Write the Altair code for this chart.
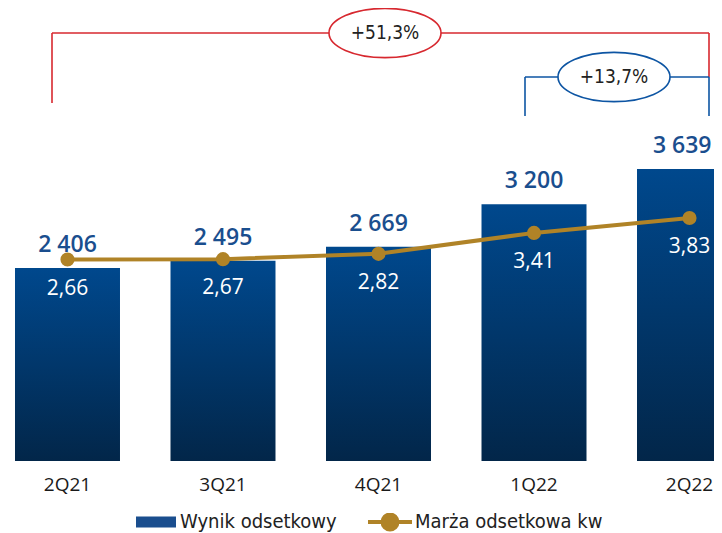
import altair as alt
import pandas as pd

# ---- data ----
quarters = ["2Q21", "3Q21", "4Q21", "1Q22", "2Q22"]
wynik = [2406, 2495, 2669, 3200, 3639]
wynik_labels = ["2 406", "2 495", "2 669", "3 200", "3 639"]
marza = [2.66, 2.67, 2.82, 3.41, 3.83]
marza_labels = ["2,66", "2,67", "2,82", "3,41", "3,83"]
series_bar = "Wynik odsetkowy"
series_line = "Marża odsetkowa kw"
annot_labels = ["+51,3%", "+13,7%"]

df = pd.DataFrame({
    "q": quarters,
    "wynik": wynik,
    "wynik_label": wynik_labels,
    "marza": marza,
    "marza_label": marza_labels,
    "sb": [series_bar] * len(quarters),
    "sl": [series_line] * len(quarters),
})

# ---- styles ----
W, H = 706, 453
BLUE_TOP = "#00488D"
BLUE_BOT = "#022649"
LABEL_BLUE = "#1A4E8E"
GOLD = "#B08327"
RED = "#D7282F"
ABLUE = "#0D55A3"
COND = "DejaVu Sans Condensed"
NUMF = "Open Sans"

x_enc = alt.X(
    "q:N", sort=quarters, title=None,
    scale=alt.Scale(range=[0, 741], paddingInner=0.3248, paddingOuter=0.045),
    axis=alt.Axis(labelAngle=0, ticks=False, tickSize=0, domain=False, grid=False,
                  labelPadding=14, labelFont=NUMF, labelFontSize=19,
                  labelFontWeight="normal", labelColor="#1A1A1A"),
)
y_bar = alt.Y("wynik:Q", scale=alt.Scale(domain=[0, 5646]), axis=None)
y_line = alt.Y("marza:Q", scale=alt.Scale(domain=[-3.016, 9.745]), axis=None)

base = alt.Chart(df)

bars = base.mark_bar(
    clip=True,
    color=alt.Gradient(
        gradient="linear",
        stops=[alt.GradientStop(color=BLUE_TOP, offset=0),
               alt.GradientStop(color=BLUE_BOT, offset=1)],
        x1=0, x2=0, y1=0, y2=1,
    ),
).encode(x=x_enc, y=y_bar)

legend_bar = alt.Legend(
    title=None, orient="none", legendX=128, legendY=505,
    symbolType="M-1,-0.28H1V0.28H-1Z", symbolSize=1600,
    symbolStrokeWidth=0, clipHeight=18, padding=0,
    labelFont=COND, labelFontSize=20, labelColor="#222222",
    labelOffset=4, labelLimit=400)
color_bar = alt.Color("sb:N", scale=alt.Scale(domain=[series_bar], range=[LABEL_BLUE]),
                      legend=legend_bar)

text_style = dict(baseline="alphabetic", dy=-16, font=NUMF, fontSize=23, fontWeight=600)
last_q = quarters[-1]

top_labels = base.mark_text(**text_style).encode(
    x=x_enc, y=y_bar, text="wynik_label:N", color=color_bar,
).transform_filter(alt.datum.q != last_q)

# last label sits at the right edge of the page: right-align so it is not cut off
top_label_last = base.mark_text(align="right", dx=22, **text_style).encode(
    x=x_enc, y=y_bar, text="wynik_label:N", color=color_bar,
).transform_filter(alt.datum.q == last_q)

left = alt.layer(bars, top_labels, top_label_last)

line = base.mark_line(strokeWidth=4).encode(
    x=x_enc, y=y_line,
    color=alt.Color("sl:N", scale=alt.Scale(domain=[series_line], range=[GOLD]),
                    legend=alt.Legend(
                        title=None, orient="none", legendX=358, legendY=505,
                        symbolType="M-1,0H1M0.34,0A0.34,0.34 0 1,1 -0.34,0A0.34,0.34 0 1,1 0.34,0Z",
                        symbolSize=1936, symbolStrokeWidth=4, symbolFillColor=GOLD,
                        clipHeight=18, padding=0,
                        labelFont=COND, labelFontSize=20, labelColor="#222222",
                        labelOffset=1, labelLimit=400)),
)
points = base.mark_circle(size=200, color=GOLD, opacity=1).encode(x=x_enc, y=y_line)
inner_labels = base.mark_text(
    baseline="middle", dy=29, font=NUMF, fontSize=21, color="white",
).encode(x=x_enc, y=y_line, text="marza_label:N")

right = alt.layer(line, points, inner_labels)

# ---- growth brackets (annotations) ----
one = alt.Data(values=[{"a": 1}])
ELL = "M1,0A1,0.44 0 1,1 -1,0A1,0.44 0 1,1 1,0Z"


def rule(x1, x2, y1, y2, color):
    return alt.Chart(one).mark_rule(color=color, strokeWidth=1.6).encode(
        x=alt.value(x1), x2=alt.value(x2), y=alt.value(y1), y2=alt.value(y2))


def bubble(cx, cy, color, label):
    e = alt.Chart(one).mark_point(
        shape=ELL, size=12544, filled=True, fill="white", stroke=color,
        strokeWidth=1.6, opacity=1).encode(x=alt.value(cx), y=alt.value(cy))
    t = alt.Chart(one).mark_text(
        text=label, font=COND, fontSize=19, color="#222222", baseline="middle"
    ).encode(x=alt.value(cx), y=alt.value(cy))
    return e + t


annots = alt.layer(
    rule(44, 701, 25, 25, RED),
    rule(44, 44, 25, 95, RED),
    rule(701, 701, 25, 69, RED),
    rule(517, 701, 69, 69, ABLUE),
    rule(517, 517, 69, 108, ABLUE),
    rule(701, 701, 69, 108, ABLUE),
    bubble(377, 25, RED, annot_labels[0]),
    bubble(606, 69, ABLUE, annot_labels[1]),
)

chart = alt.layer(left, right, annots).resolve_scale(
    y="independent", color="independent"
).properties(
    width=W, height=H,
    autosize=alt.AutoSizeParams(type="none"),
    padding={"left": 0, "top": 0, "right": 0, "bottom": 72},
).configure_view(stroke=None)

chart.save("out.html", embed_options={"renderer": "svg", "actions": False})
